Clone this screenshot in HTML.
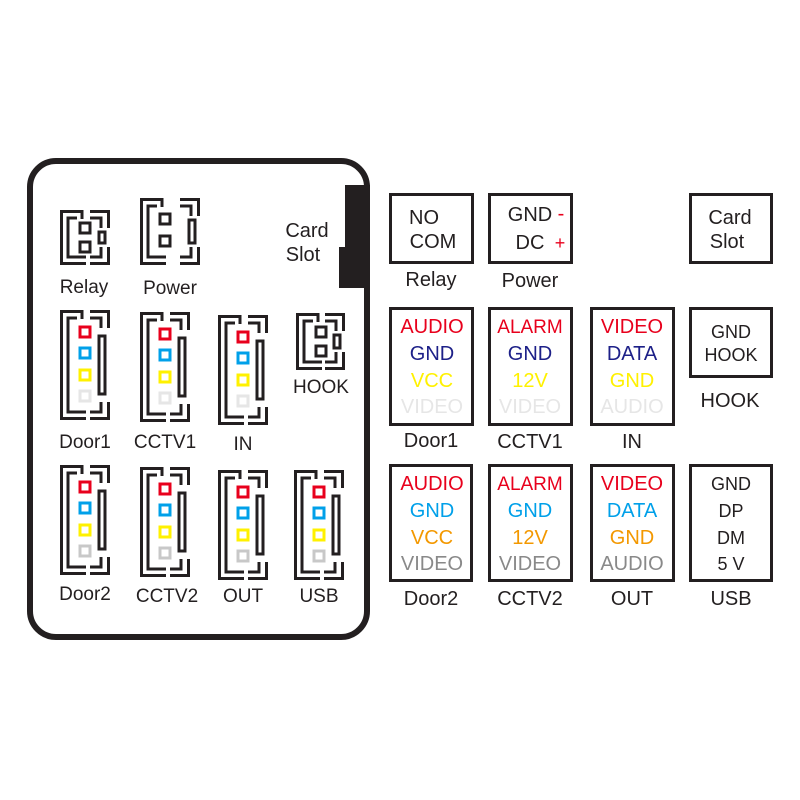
<!DOCTYPE html>
<html><head><meta charset="utf-8"><style>
html,body{margin:0;padding:0;background:#fff;}
svg{display:block;font-family:"Liberation Sans",sans-serif;}
</style></head><body>
<svg id="s" width="800" height="800" viewBox="0 0 800 800">
<rect x="30" y="161" width="337" height="476" rx="26" fill="none" stroke="#231f20" stroke-width="6"/>
<path d="M345,185 H370 V288 H339 V247 H345 Z" fill="#231f20"/>
<g font-size="19" fill="#231f20" text-anchor="middle">
<text x="84" y="293">Relay</text><text x="170" y="294">Power</text>
<text x="307" y="237" font-size="20">Card</text><text x="303" y="261" font-size="20">Slot</text>
<text x="321" y="393">HOOK</text>
<text x="85" y="448">Door1</text><text x="165" y="448">CCTV1</text><text x="243" y="450">IN</text>
<text x="85" y="600">Door2</text><text x="167" y="602">CCTV2</text><text x="243" y="602">OUT</text><text x="319" y="602">USB</text>
</g>
<g fill="none" stroke="#231f20" stroke-width="3">
<rect x="390.5" y="194.5" width="82" height="68"/><rect x="489.5" y="194.5" width="82" height="68"/><rect x="690.5" y="194.5" width="81" height="68"/>
<rect x="390.5" y="308.5" width="82" height="116"/><rect x="489.5" y="308.5" width="82" height="116"/><rect x="591.5" y="308.5" width="82" height="116"/><rect x="690.5" y="308.5" width="81" height="68"/>
<rect x="390.5" y="465.5" width="81" height="115"/><rect x="489.5" y="465.5" width="82" height="115"/><rect x="591.5" y="465.5" width="82" height="115"/><rect x="690.5" y="465.5" width="81" height="115"/>
</g>
<g font-size="20" text-anchor="middle" fill="#231f20">
<text x="424" y="224">NO</text><text x="433" y="248">COM</text>
<text x="530" y="221">GND</text><text x="530" y="249">DC</text>
<text x="730" y="224">Card</text><text x="727" y="248">Slot</text>
<text x="431" y="286">Relay</text><text x="530" y="287">Power</text>
<text x="730" y="407">HOOK</text>
<text x="431" y="447">Door1</text><text x="530" y="448">CCTV1</text><text x="632" y="448">IN</text>
<text x="431" y="605">Door2</text><text x="530" y="605">CCTV2</text><text x="632" y="605">OUT</text><text x="731" y="605">USB</text>
</g>
<g font-size="20" text-anchor="middle" fill="#e8001c"><text x="561" y="220">-</text><text x="560" y="249" font-size="18">+</text></g>
<g font-size="20" text-anchor="middle">
<text x="432" y="333" fill="#e8001c">AUDIO</text><text x="432" y="360" fill="#1d2088">GND</text><text x="432" y="387" fill="#fff100">VCC</text><text x="432" y="413" fill="#e6e6e6">VIDEO</text>
<text x="530" y="333" fill="#e8001c" font-size="19">ALARM</text><text x="530" y="360" fill="#1d2088">GND</text><text x="530" y="387" fill="#fff100">12V</text><text x="530" y="413" fill="#e6e6e6">VIDEO</text>
<text x="632" y="333" fill="#e8001c">VIDEO</text><text x="632" y="360" fill="#1d2088">DATA</text><text x="632" y="387" fill="#fff100">GND</text><text x="632" y="413" fill="#e6e6e6">AUDIO</text>
<text x="731" y="338" fill="#231f20" font-size="18">GND</text><text x="731" y="361" fill="#231f20" font-size="18">HOOK</text>
<text x="432" y="490" fill="#e8001c">AUDIO</text><text x="432" y="517" fill="#00a0e9">GND</text><text x="432" y="544" fill="#f39800">VCC</text><text x="432" y="570" fill="#898989">VIDEO</text>
<text x="530" y="490" fill="#e8001c" font-size="19">ALARM</text><text x="530" y="517" fill="#00a0e9">GND</text><text x="530" y="544" fill="#f39800">12V</text><text x="530" y="570" fill="#898989">VIDEO</text>
<text x="632" y="490" fill="#e8001c">VIDEO</text><text x="632" y="517" fill="#00a0e9">DATA</text><text x="632" y="544" fill="#f39800">GND</text><text x="632" y="570" fill="#898989">AUDIO</text>
<text x="731" y="490" fill="#231f20" font-size="18">GND</text><text x="731" y="517" fill="#231f20" font-size="18">DP</text><text x="731" y="544" fill="#231f20" font-size="18">DM</text><text x="731" y="570" fill="#231f20" font-size="18">5 V</text>
</g>
<g id="c"></g>
</svg>
<script>
var g=document.getElementById('c'),h='';
function conn(x,y,w,H,pins){
var x1=x+w,y1=y+H,s='';
var p='fill="none" stroke="#231f20" stroke-width="3"';
s+='<path '+p+' d="M'+(x+22)+','+(y+9)+' V'+(y+1.5)+' H'+(x+1.5)+' V'+(y1-1.5)+' H'+(x+26)+'"/>';
s+='<path '+p+' d="M'+(x+17)+','+(y+8)+' H'+(x+8)+' V'+(y1-8)+' H'+(x+26)+'"/>';
s+='<path '+p+' d="M'+(x1-20)+','+(y+1.5)+' H'+(x1-1.5)+' V'+(y+18)+'"/>';
s+='<path '+p+' d="M'+(x1-20)+','+(y+8)+' H'+(x1-9)+' V'+(y+18)+'"/>';
s+='<path '+p+' d="M'+(x1-20)+','+(y1-1.5)+' H'+(x1-1.5)+' V'+(y1-18)+'"/>';
s+='<path '+p+' d="M'+(x1-20)+','+(y1-8)+' H'+(x1-9)+' V'+(y1-18)+'"/>';
var bt=pins.length>2?26:22;
s+='<rect '+p+' x="'+(x1-11)+'" y="'+(y+bt)+'" width="6" height="'+(H-2*bt)+'"/>';
pins.forEach(function(pn){s+='<rect fill="none" stroke="'+pn[1]+'" stroke-width="3" x="'+(x+20)+'" y="'+(y+pn[0]-5)+'" width="10" height="10"/>';});
return s;}
var K='#231f20';
var C1=['#e8001c','#00a0e9','#fff100','#e6e6e6'],C2=['#e8001c','#00a0e9','#fff100','#c8c8c8'];
function four(c){return [[22,c[0]],[43,c[1]],[65,c[2]],[86,c[3]]];}
h+=conn(60,210,50,55,[[18,K],[37,K]]);
h+=conn(140,198,60,67,[[21,K],[43,K]]);
h+=conn(296,313,49,57,[[19,K],[38,K]]);
h+=conn(60,310,50,110,four(C1));
h+=conn(140,312,50,110,four(C1));
h+=conn(218,315,50,110,four(C1));
h+=conn(60,465,50,110,four(C2));
h+=conn(140,467,50,110,four(C2));
h+=conn(218,470,50,110,four(C2));
h+=conn(294,470,50,110,four(C2));
g.innerHTML=h;
</script>
</body></html>
